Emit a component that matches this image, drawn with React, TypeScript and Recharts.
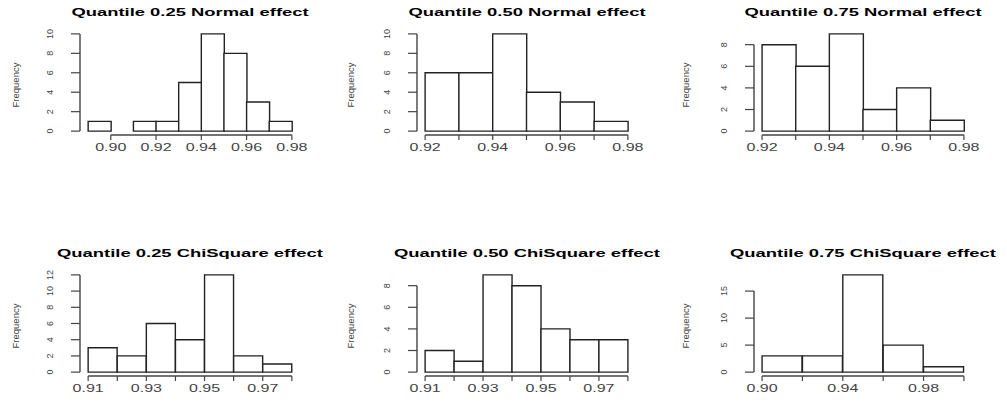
import React from "react";
import { BarChart, Bar, XAxis, YAxis, ReferenceLine } from "recharts";

// histogram breaks / counts
const q25NormalBreaks = [0.89, 0.9, 0.91, 0.92, 0.93, 0.94, 0.95, 0.96, 0.97, 0.98];
const q25NormalCounts = [1, 0, 1, 1, 5, 10, 8, 3, 1];
const q50NormalBreaks = [0.92, 0.93, 0.94, 0.95, 0.96, 0.97, 0.98];
const q50NormalCounts = [6, 6, 10, 4, 3, 1];
const q75NormalBreaks = [0.92, 0.93, 0.94, 0.95, 0.96, 0.97, 0.98];
const q75NormalCounts = [8, 6, 9, 2, 4, 1];
const q25ChiBreaks = [0.91, 0.92, 0.93, 0.94, 0.95, 0.96, 0.97, 0.98];
const q25ChiCounts = [3, 2, 6, 4, 12, 2, 1];
const q50ChiBreaks = [0.91, 0.92, 0.93, 0.94, 0.95, 0.96, 0.97, 0.98];
const q50ChiCounts = [2, 1, 9, 8, 4, 3, 3];
const q75ChiBreaks = [0.9, 0.92, 0.94, 0.96, 0.98, 1.0];
const q75ChiCounts = [3, 3, 18, 5, 1];

// axis ticks and which of them carry a label
const ticksEvery02 = [0.9, 0.92, 0.94, 0.96, 0.98];
const ticks92to98 = [0.92, 0.93, 0.94, 0.95, 0.96, 0.97, 0.98];
const labels92to98 = [0.92, 0.94, 0.96, 0.98];
const ticks91to98 = [0.91, 0.92, 0.93, 0.94, 0.95, 0.96, 0.97, 0.98];
const labels91to97 = [0.91, 0.93, 0.95, 0.97];
const ticks90to100 = [0.9, 0.92, 0.94, 0.96, 0.98, 1.0];
const labels90to98 = [0.9, 0.94, 0.98];
const yTicks10 = [0, 2, 4, 6, 8, 10];
const yTicks8 = [0, 2, 4, 6, 8];
const yTicks12 = [0, 2, 4, 6, 8, 10, 12];
const yTicks15 = [0, 5, 10, 15];

const FONT = '"Liberation Sans", Arial, Helvetica, sans-serif';
const AXIS = "#444";
const LABEL = "#444";
const STRETCH = 1.6;

const COLS = [
  { cx: 0, w: 335, plotL: 80, plotR: 300 },
  { cx: 335, w: 335, plotL: 417, plotR: 636 },
  { cx: 670, w: 337, plotL: 754, plotR: 972 },
];
const ROWS = [
  { cy: 0, plotT: 30, plotB: 135, titleY: 12.5 },
  { cy: 241, plotT: 271, plotB: 376, titleY: 254 },
];
const CELL_H = 160;
const Y_AXIS_W = 60;
const X_AXIS_H = 22;

function XTick(props: any) {
  const { x, y, payload, labels } = props;
  const show = labels.some((l: number) => Math.abs(l - payload.value) < 1e-9);
  return (
    <g>
      <line x1={x} y1={y} x2={x} y2={y + 5} stroke={AXIS} strokeWidth={1.2} />
      {show && (
        <g transform={`translate(${x},${y + 12.5}) scale(${STRETCH},1)`}>
          <text textAnchor="middle" dominantBaseline="central" fontSize={10} fill={LABEL} fontFamily={FONT}>
            {payload.value.toFixed(2)}
          </text>
        </g>
      )}
    </g>
  );
}

function YTick(props: any) {
  const { x, y, payload } = props;
  return (
    <g>
      <line x1={x} y1={y} x2={x - 9} y2={y} stroke={AXIS} strokeWidth={1.2} />
      <text
        transform={`translate(${x - 30},${y}) rotate(-90)`}
        textAnchor="middle"
        dominantBaseline="central"
        fontSize={9}
        fill={LABEL}
        fontFamily={FONT}
      >
        {payload.value}
      </text>
    </g>
  );
}

interface PanelProps {
  title: string;
  breaks: number[];
  counts: number[];
  xTicks: number[];
  xLabels: number[];
  yTicks: number[];
  col: number;
  row: number;
}

function Panel({ title, breaks, counts, xTicks, xLabels, yTicks, col, row }: PanelProps) {
  const c = COLS[col];
  const r = ROWS[row];
  const data = counts.map((n, i) => ({ mid: (breaks[i] + breaks[i + 1]) / 2, count: n }));
  const lo = breaks[0];
  const hi = breaks[breaks.length - 1];
  const xPad = (hi - lo) * 0.04;
  const maxCount = Math.max(...counts);
  const yMin = -maxCount * 0.04;
  const yMax = maxCount * 1.04;
  const xMin = lo - xPad;

  const margin = {
    top: r.plotT - r.cy,
    left: c.plotL - c.cx - Y_AXIS_W,
    right: c.w - (c.plotR - c.cx),
    bottom: CELL_H - (r.plotB - r.cy) - X_AXIS_H,
  };

  return (
    <>
      <div
        style={{
          position: "absolute",
          left: (c.plotL + c.plotR) / 2,
          top: r.titleY,
          transform: `translate(-50%, -50%) scaleX(${STRETCH})`,
          whiteSpace: "nowrap",
          fontFamily: FONT,
          fontWeight: "bold",
          fontSize: 11.5,
          color: "#000",
          lineHeight: 1,
        }}
      >
        {title}
      </div>
      <div
        style={{
          position: "absolute",
          left: c.cx + 16,
          top: (r.plotT + r.plotB) / 2 + 2,
          transform: "translate(-50%, -50%) rotate(-90deg)",
          whiteSpace: "nowrap",
          fontFamily: FONT,
          fontSize: 9.5,
          color: LABEL,
          lineHeight: 1,
        }}
      >
        Frequency
      </div>
      <div style={{ position: "absolute", left: c.cx, top: r.cy }}>
        <BarChart width={c.w} height={CELL_H} data={data} margin={margin} barCategoryGap={0}>
          <XAxis
            type="number"
            dataKey="mid"
            domain={[xMin, hi + xPad]}
            ticks={xTicks}
            interval={0}
            height={X_AXIS_H}
            axisLine={false}
            tickLine={false}
            tickSize={0}
            tickMargin={0}
            tick={<XTick labels={xLabels} />}
          />
          <YAxis
            type="number"
            domain={[yMin, yMax]}
            ticks={yTicks}
            interval={0}
            width={Y_AXIS_W}
            axisLine={false}
            tickLine={false}
            tickSize={0}
            tickMargin={0}
            tick={<YTick />}
          />
          <Bar dataKey="count" fill="#fff" stroke="#222" strokeWidth={1.4} isAnimationActive={false} />
          <ReferenceLine
            segment={[{ x: xTicks[0], y: yMin }, { x: xTicks[xTicks.length - 1], y: yMin }]}
            stroke={AXIS}
            strokeWidth={1.4}
            ifOverflow="visible"
          />
          <ReferenceLine
            segment={[{ x: xMin, y: yTicks[0] }, { x: xMin, y: yTicks[yTicks.length - 1] }]}
            stroke={AXIS}
            strokeWidth={1.4}
            ifOverflow="visible"
          />
        </BarChart>
      </div>
    </>
  );
}

export default function App() {
  return (
    <div style={{ position: "absolute", left: 0, top: 0, width: 1007, height: 402, background: "#fff", overflow: "hidden" }}>
      <Panel title="Quantile 0.25 Normal effect" breaks={q25NormalBreaks} counts={q25NormalCounts}
        xTicks={ticksEvery02} xLabels={ticksEvery02} yTicks={yTicks10} col={0} row={0} />
      <Panel title="Quantile 0.50 Normal effect" breaks={q50NormalBreaks} counts={q50NormalCounts}
        xTicks={ticks92to98} xLabels={labels92to98} yTicks={yTicks10} col={1} row={0} />
      <Panel title="Quantile 0.75 Normal effect" breaks={q75NormalBreaks} counts={q75NormalCounts}
        xTicks={ticks92to98} xLabels={labels92to98} yTicks={yTicks8} col={2} row={0} />
      <Panel title="Quantile 0.25 ChiSquare effect" breaks={q25ChiBreaks} counts={q25ChiCounts}
        xTicks={ticks91to98} xLabels={labels91to97} yTicks={yTicks12} col={0} row={1} />
      <Panel title="Quantile 0.50 ChiSquare effect" breaks={q50ChiBreaks} counts={q50ChiCounts}
        xTicks={ticks91to98} xLabels={labels91to97} yTicks={yTicks8} col={1} row={1} />
      <Panel title="Quantile 0.75 ChiSquare effect" breaks={q75ChiBreaks} counts={q75ChiCounts}
        xTicks={ticks90to100} xLabels={labels90to98} yTicks={yTicks15} col={2} row={1} />
    </div>
  );
}
